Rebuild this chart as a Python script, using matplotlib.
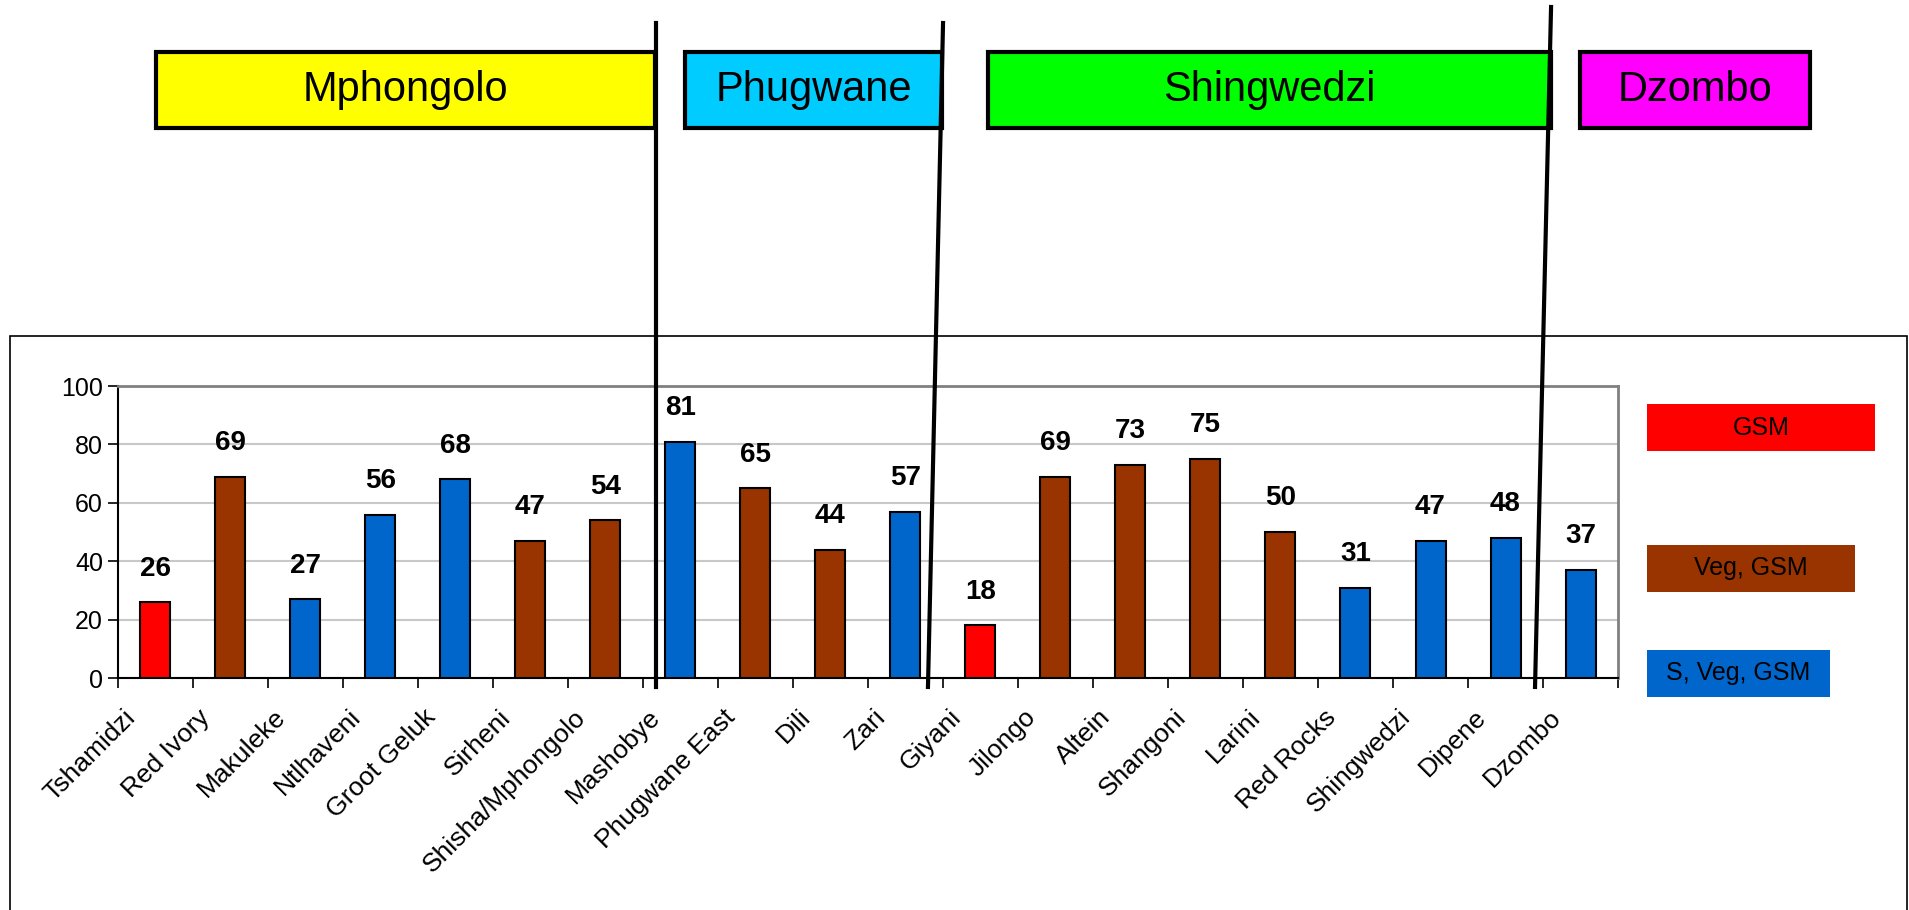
import numpy as np
import matplotlib.pyplot as plt
from matplotlib.patches import Rectangle
from matplotlib.lines import Line2D
from matplotlib.transforms import ScaledTranslation

plt.rcParams['font.family'] = ['Liberation Sans', 'DejaVu Sans']

""" Data """
sites = ['Tshamidzi', 'Red Ivory', 'Makuleke', 'Ntlhaveni', 'Groot Geluk',
         'Sirheni', 'Shisha/Mphongolo', 'Mashobye', 'Phugwane East', 'Dili',
         'Zari', 'Giyani', 'Jilongo', 'Altein', 'Shangoni', 'Larini',
         'Red Rocks', 'Shingwedzi', 'Dipene', 'Dzombo']
values = [26, 69, 27, 56, 68, 47, 54, 81, 65, 44,
          57, 18, 69, 73, 75, 50, 31, 47, 48, 37]
# 0 = GSM, 1 = Veg, GSM, 2 = S, Veg, GSM
site_class = [0, 1, 2, 2, 2, 1, 1, 2, 1, 1,
              2, 0, 1, 1, 1, 1, 2, 2, 2, 2]
class_names = ['GSM', 'Veg, GSM', 'S, Veg, GSM']
class_colors = ['#FF0000', '#993300', '#0066CC']

regions = ['Mphongolo', 'Phugwane', 'Shingwedzi', 'Dzombo']
region_colors = ['#FFFF00', '#00CCFF', '#00FF00', '#FF00FF']

""" Figure """
fig = plt.figure(figsize=(19.09, 9.10), dpi=100)
ax = fig.add_axes([0.0616, 0.2549, 0.786, 0.3209])

x = np.arange(len(sites))
colors = [class_colors[c] for c in site_class]
ax.bar(x, values, width=0.4, color=colors, edgecolor='black', linewidth=1.5, zorder=3)
for xi, v in zip(x, values):
    ax.text(xi, v + 11.5, str(v), ha='center', va='center', fontsize=20,
            fontweight='bold', zorder=4)

ax.set_xlim(-0.5, len(sites) - 0.5)
ax.set_ylim(0, 100)
ax.set_yticks(np.arange(0, 101, 20))
ax.yaxis.grid(True, color='#C8C8C8', linewidth=1.5, zorder=0)
ax.tick_params(axis='y', labelsize=18, length=7, width=1.2, direction='out')

# category names, slanted and set a little left of each slot centre
ax.set_xticks(x)
ax.set_xticklabels([])
ax.tick_params(axis='x', which='major', length=0)
ax.set_xticks(np.arange(-0.5, len(sites), 1), minor=True)
ax.tick_params(axis='x', which='minor', length=7, width=1.2, direction='out')
lab_tr = ax.get_xaxis_transform() + ScaledTranslation(-0.235, -0.355, fig.dpi_scale_trans)
for xi, name in zip(x, sites):
    ax.text(xi, 0, name, transform=lab_tr, rotation=45, ha='right', va='center',
            rotation_mode='anchor', fontsize=19, clip_on=False)

for s in ['left', 'bottom']:
    ax.spines[s].set_color('black')
    ax.spines[s].set_linewidth(1.5)
for s in ['top', 'right']:
    ax.spines[s].set_color('#808080')
    ax.spines[s].set_linewidth(2)

# outer chart frame (bottom edge runs off the page)
fig.patches.append(Rectangle((0.0052, -0.1), 0.9938, 0.6308 + 0.1, transform=fig.transFigure,
                             facecolor='none', edgecolor='black', linewidth=1.2))

# legend boxes on the right
legend_y = [0.5044, 0.3495, 0.2341]
legend_w = [0.1194, 0.1090, 0.0959]
for name, col, ly, lw in zip(class_names, class_colors, legend_y, legend_w):
    fig.patches.append(Rectangle((0.8628, ly), lw, 0.0516, transform=fig.transFigure,
                                 facecolor=col, edgecolor='none'))
    fig.text(0.8628 + lw / 2, ly + 0.0258, name, ha='center', va='center', fontsize=18)

# region header boxes
box_x = [0.0817, 0.3588, 0.5175, 0.8277]
box_w = [0.2614, 0.1346, 0.2949, 0.1205]
for name, col, bx, bw in zip(regions, region_colors, box_x, box_w):
    fig.patches.append(Rectangle((bx, 0.8593), bw, 0.0835, transform=fig.transFigure,
                                 facecolor=col, edgecolor='black', linewidth=3, zorder=2))
    fig.text(bx + bw / 2, 0.8593 + 0.0418, name, ha='center', va='center', fontsize=30, zorder=3)

# region divider lines
dividers = [((0.3436, 0.3436), (0.9747, 0.2451)),
            ((0.4940, 0.4861), (0.9747, 0.2451)),
            ((0.8125, 0.8041), (0.9923, 0.2451))]
for xs, ys in dividers:
    fig.lines.append(Line2D(xs, ys, transform=fig.transFigure, color='black',
                            linewidth=3, zorder=5))

plt.savefig('out.png', dpi=100)
